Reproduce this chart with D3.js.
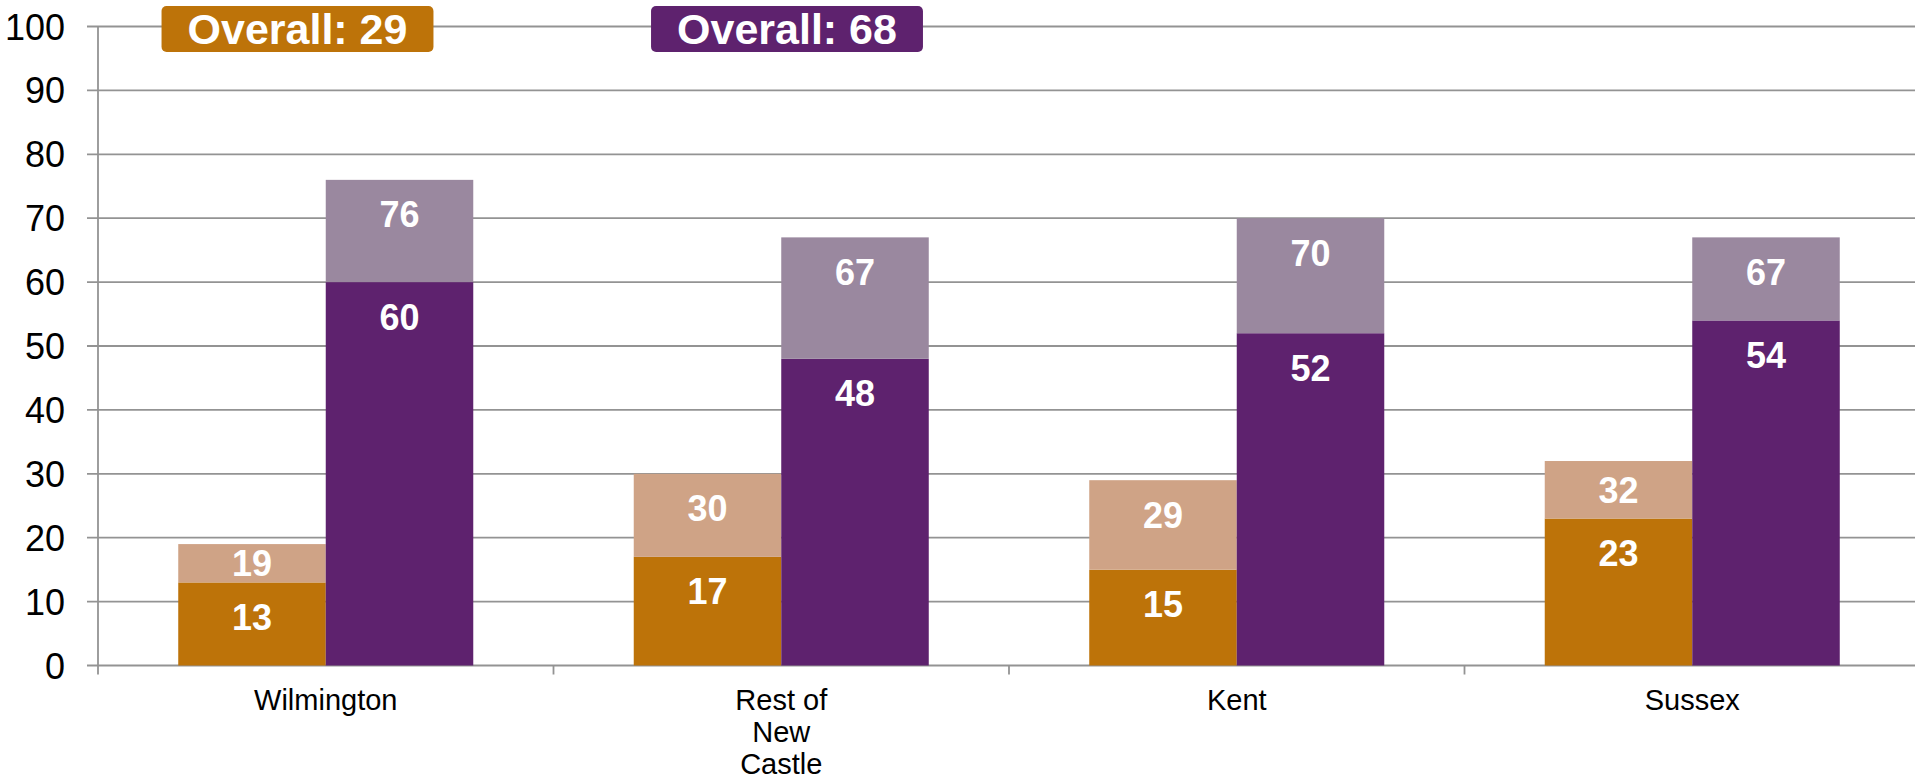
<!DOCTYPE html>
<meta charset="utf-8">
<html lang="en">
  <head>
    <style>
      body { margin: 0; background: #fff; }
      svg { display: block; font-family: "Liberation Sans", Arial, sans-serif; }
      .grid line { stroke: #939393; stroke-width: 1.8px; }
      .tick-label { font-size: 36px; fill: #000; }
      .cat-label { font-size: 29px; fill: #000; }
      .val { font-size: 36px; font-weight: bold; fill: #fff; }
      .overall text { font-size: 43px; font-weight: bold; fill: #fff; }
    </style>
  </head>
  <body>
    <script src="https://cdn.jsdelivr.net/npm/d3@7"></script>
    <svg></svg>
    <script>
      // chart data
      var categories = ["Wilmington", "Rest of\nNew\nCastle", "Kent", "Sussex"];
      var orangeBase = [13, 17, 15, 23];
      var orangeTotal = [19, 30, 29, 32];
      var purpleBase = [60, 48, 52, 54];
      var purpleTotal = [76, 67, 70, 67];
      var yTicks = [0, 10, 20, 30, 40, 50, 60, 70, 80, 90, 100];
      var overallLabels = ["Overall: 29", "Overall: 68"];

      var colors = {
        orange: "#bd7309", orangeLight: "#cfa386",
        purple: "#5e226e", purpleLight: "#9a889f"
      };

      var width = 1915, height = 780;
      var svg = d3.select("svg").attr("width", width).attr("height", height);

      var x0 = d3.scaleBand().domain(d3.range(categories.length)).range([98, 1920]);
      var x1 = d3.scaleBand().domain([0, 1]).range([0, x0.bandwidth()]).paddingOuter(0.544);
      var y = d3.scaleLinear().domain([0, 100]).range([665.5, 26.5]);

      // gridlines + y ticks
      var grid = svg.append("g").attr("class", "grid");
      grid.selectAll("line").data(yTicks).enter().append("line")
        .attr("x1", 87).attr("x2", width)
        .attr("y1", function(d) { return y(d); })
        .attr("y2", function(d) { return y(d); });

      svg.append("g").selectAll("text").data(yTicks).enter().append("text")
        .attr("class", "tick-label")
        .attr("text-anchor", "end")
        .attr("x", 65)
        .attr("y", function(d) { return y(d) + 13; })
        .text(function(d) { return d; });

      // axis lines and category ticks
      var axis = svg.append("g").attr("class", "grid");
      axis.append("line").attr("x1", 98).attr("x2", 98).attr("y1", y(100)).attr("y2", y(0) + 9);
      axis.selectAll(".ct").data(d3.range(1, categories.length)).enter().append("line")
        .attr("x1", function(d) { return x0(d); })
        .attr("x2", function(d) { return x0(d); })
        .attr("y1", y(0)).attr("y2", y(0) + 9);

      // stacked bars
      var rows = categories.map(function(c, i) {
        return [
          { k: 0, base: orangeBase[i], total: orangeTotal[i], c1: colors.orange, c2: colors.orangeLight },
          { k: 1, base: purpleBase[i], total: purpleTotal[i], c1: colors.purple, c2: colors.purpleLight }
        ];
      });

      var groups = svg.append("g").selectAll("g").data(rows).enter().append("g")
        .attr("transform", function(d, i) { return "translate(" + x0(i) + ",0)"; });

      var bars = groups.selectAll("g").data(function(d) { return d; }).enter().append("g");

      bars.append("rect")
        .attr("x", function(d) { return x1(d.k); })
        .attr("width", x1.bandwidth())
        .attr("y", function(d) { return y(d.base); })
        .attr("height", function(d) { return y(0) - y(d.base); })
        .attr("fill", function(d) { return d.c1; });

      bars.append("rect")
        .attr("x", function(d) { return x1(d.k); })
        .attr("width", x1.bandwidth())
        .attr("y", function(d) { return y(d.total); })
        .attr("height", function(d) { return y(d.base) - y(d.total); })
        .attr("fill", function(d) { return d.c2; });

      function labelY(top, bottom) {
        return top + Math.min(34.5, (bottom - top) / 2) + 13;
      }

      bars.append("text").attr("class", "val")
        .attr("text-anchor", "middle")
        .attr("x", function(d) { return x1(d.k) + x1.bandwidth() / 2; })
        .attr("y", function(d) { return labelY(y(d.base), y(0)); })
        .text(function(d) { return d.base; });

      bars.append("text").attr("class", "val")
        .attr("text-anchor", "middle")
        .attr("x", function(d) { return x1(d.k) + x1.bandwidth() / 2; })
        .attr("y", function(d) { return labelY(y(d.total), y(d.base)); })
        .text(function(d) { return d.total; });

      // category labels
      var cat = svg.append("g").selectAll("text").data(categories).enter().append("text")
        .attr("class", "cat-label")
        .attr("text-anchor", "middle")
        .attr("x", function(d, i) { return x0(i) + x0.bandwidth() / 2; })
        .attr("y", 710);
      cat.selectAll("tspan").data(function(d) { return d.split("\n"); }).enter().append("tspan")
        .attr("x", function() { return this.parentNode.getAttribute("x"); })
        .attr("dy", function(d, i) { return i ? 32 : 0; })
        .text(function(d) { return d; });

      // overall badges
      var badgeCenters = [297.5, 787];
      var badgeColors = [colors.orange, colors.purple];
      var badges = svg.append("g").selectAll("g").data(overallLabels).enter().append("g")
        .attr("class", "overall");
      badges.append("rect").attr("fill", function(d, i) { return badgeColors[i]; });
      badges.append("text")
        .attr("text-anchor", "middle")
        .attr("x", function(d, i) { return badgeCenters[i]; })
        .attr("y", 44)
        .text(function(d) { return d; });
      badges.each(function(d, i) {
        var w = d3.select(this).select("text").node().getComputedTextLength() + 52;
        d3.select(this).select("rect")
          .attr("x", badgeCenters[i] - w / 2).attr("width", w)
          .attr("y", 6).attr("height", 46).attr("rx", 5);
      });
    </script>
  </body>
</html>
